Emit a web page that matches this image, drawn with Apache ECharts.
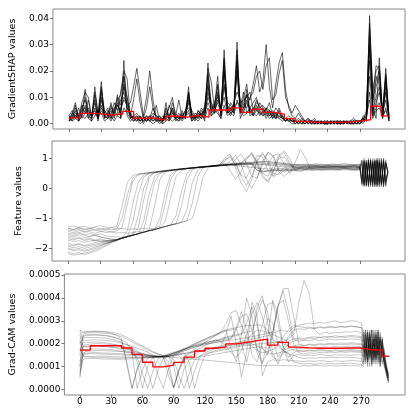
<!DOCTYPE html>
<html>
<head>
<meta charset="utf-8">
<script src="https://cdn.jsdelivr.net/npm/echarts@6/dist/echarts.min.js"></script>
<style>
html, body { margin: 0; padding: 0; background: #fff; }
#chart { width: 415px; height: 415px; }
</style>
</head>
<body>
<div id="chart"></div>
<script>
// sample positions (time steps)
const shapX = Array.from({length: 100}, (_, i) => i * 3)
const featX = Array.from({length: 55}, (_, i) => i * 5).concat(Array.from({length: 13}, (_, i) => 272 + i * 2))
const camX = [0, 3].concat(Array.from({length: 54}, (_, i) => 5 + i * 5)).concat(Array.from({length: 13}, (_, i) => 272 + i * 2))
const xTicks = [0, 30, 60, 90, 120, 150, 180, 210, 240, 270]

// GradientSHAP values, in 0.001
const shap1 = [2,4,8,1,3,13,2,1,14,3, 16,2,3,1,4,11,2,24,3,1, 2,1,3,0,2,1,3,1,2,0, 8,1,3,2,1,4,2,14,1,3, 2,4,1,23,3,5,4,2,28,5,
  3,6,31,2,5,13,3,4,6,3, 5,2,4,3,2,6,3,1,2,1, 1,0,1,0,1,0,1,0,1,0, 0,1,0,1,0,1,0,1,1,0, 1,2,1,41,6,2,25,3,21,1]
const shap2 = [1,3,7,2,8,12,10,2,12,4, 14,3,2,8,3,4,12,20,17,2, 3,2,1,2,1,3,2,7,1,2, 3,6,10,2,3,1,3,12,4,2, 3,2,6,21,16,6,18,3,25,6,
  4,5,28,6,12,4,6,3,5,4, 3,6,5,2,4,3,2,1,2,1, 0,1,0,1,2,0,1,0,1,0, 1,0,1,0,1,0,1,0,1,1, 0,1,5,38,13,20,22,4,19,2]
const shap3 = [3,2,5,1,6,9,4,3,11,2, 12,3,4,7,2,9,11,18,5,3, 2,3,1,2,3,1,2,1,3,1, 2,1,4,3,2,5,2,10,3,1, 4,3,5,18,4,7,14,5,22,4,
  6,4,24,5,10,15,4,6,5,8, 6,4,5,4,2,3,2,1,2,1, 1,0,1,1,0,1,0,1,0,1, 0,1,0,1,1,0,1,0,1,0, 1,2,1,33,4,14,18,2,16,3]
const shap4 = [2,1,4,3,5,6,3,2,6,4, 7,2,5,3,8,5,9,12,6,4, 1,2,3,1,2,3,1,2,0,1, 3,2,6,1,2,3,4,8,2,3, 2,5,3,12,6,5,8,4,15,7,
  5,7,18,4,6,8,5,3,7,4, 4,5,3,5,3,2,3,1,2,1, 1,1,0,1,0,1,0,0,1,0, 0,1,0,0,1,0,1,0,0,1, 1,0,2,24,3,8,12,4,9,2]
const shap5 = [1,2,3,2,4,5,6,3,4,2, 5,3,4,2,5,3,6,9,7,8, 14,21,12,3,10,20,9,2,1,2, 2,3,4,2,3,2,3,5,2,3, 3,2,4,8,5,4,9,6,10,4,
  5,6,8,7,6,11,9,15,22,12, 16,30,14,6,15,23,27,13,6,3, 2,4,2,1,2,1,1,0,1,0, 1,0,1,0,0,1,0,1,0,0, 1,1,2,12,3,6,8,2,6,1]
const shap6 = [2,3,2,4,3,7,2,4,5,3, 6,4,3,5,4,7,5,10,8,3, 9,17,8,2,6,14,6,3,2,1, 4,3,6,3,2,3,5,6,4,2, 5,3,4,10,7,5,12,4,14,6,
  4,8,12,9,7,6,10,12,18,20, 13,22,25,9,11,19,24,10,7,4, 7,5,3,1,1,0,1,0,0,1, 0,1,0,1,0,1,1,0,1,0, 0,2,1,18,5,10,14,3,12,2]
const shap7 = [3,1,2,1,3,2,4,1,3,5, 4,1,2,3,1,3,2,6,4,2, 1,2,0,1,2,1,0,1,1,0, 1,2,1,2,1,2,3,4,1,2, 1,3,2,6,3,4,5,2,7,3,
  4,3,9,5,3,4,6,4,3,5, 3,4,2,3,4,2,1,2,1,0, 0,1,0,0,1,0,0,1,0,0, 0,0,1,0,0,0,1,0,0,1, 1,1,3,9,2,5,6,3,5,2]
const shap8 = [1,4,3,2,7,4,5,3,8,2, 10,3,2,6,5,10,7,14,10,3, 2,1,2,3,1,2,6,2,3,1, 5,2,8,4,2,3,2,9,5,3, 3,6,4,14,8,6,15,3,19,8,
  7,5,20,8,9,10,12,5,9,6, 7,5,8,3,6,4,3,2,3,2, 1,2,1,0,1,1,2,0,1,0, 1,0,1,1,0,1,0,1,2,1, 1,2,4,28,9,16,20,3,14,1]
const shap9 = [3,5,2,6,2,4,9,3,5,2, 9,4,6,2,5,8,3,18,10,2, 3,4,2,1,3,2,1,2,1,3, 2,7,4,3,9,2,5,11,3,2, 5,3,7,15,5,8,10,6,20,4,
  8,6,22,7,4,9,6,8,10,5, 6,3,5,2,3,4,2,2,1,2, 0,1,1,0,1,1,0,1,0,1, 1,0,0,1,0,1,0,0,1,1, 0,3,2,30,8,18,15,5,17,3]
const shap10 = [1,2,6,3,4,10,5,3,9,1, 13,5,3,4,6,7,4,15,6,4, 2,3,1,2,1,2,4,3,2,1, 6,3,5,2,4,2,3,12,2,4, 3,4,5,19,8,4,11,5,24,6,
  6,4,26,4,8,11,4,5,8,7, 4,6,3,4,2,5,2,2,1,1, 1,0,2,1,0,1,0,1,1,0, 0,1,1,0,1,0,1,1,0,1, 1,1,3,36,10,22,21,3,18,2]
// mean over 10-step windows, in 0.001
const shapMean = [2.2,3.9,3.7,3.3,3.7,4.7,2.1,2.1,1.4,2.9, 2.5,3.2,2.5,5.2,5.2,6.0,4.3,5.5,4.3,3.6,
  1.9,0.9,0.5,0.5,0.5,0.6,1.0,1.5,6.7,3.0]

// feature values
const feat1 = [-1.32,-1.38,-1.30,-1.36,-1.33,-1.40,-1.34,-1.37,-1.31,-1.36, -1.00,-0.20,0.35,0.47,0.50,0.52,0.55,0.57,0.60,0.62,
  0.64,0.66,0.68,0.70,0.71,0.73,0.74,0.76,0.78,0.80, 0.82,0.80,0.83,0.81,0.84,0.82,0.80,0.78,0.76,0.74,
  0.72,0.70,0.70,0.68,0.69,0.70,0.71,0.70,0.72,0.71, 0.70,0.72,0.71,0.73,0.70,
  0.20,0.90,0.10,0.95,0.15,1.00,0.10,0.90,0.05,0.95,0.20,0.85,0.60]
const feat2 = [-1.52,-1.58,-1.50,-1.56,-1.60,-1.55,-1.62,-1.66,-1.68,-1.70, -1.66,-1.40,-0.50,0.20,0.45,0.50,0.53,0.56,0.58,0.61,
  0.63,0.65,0.67,0.69,0.71,0.72,0.74,0.75,0.80,0.95, 1.05,0.80,0.45,0.35,0.70,1.10,1.05,0.60,0.40,0.70,
  0.85,0.75,0.72,0.70,0.68,0.70,0.72,0.69,0.71,0.70, 0.72,0.70,0.68,0.71,0.69,
  0.85,0.10,0.90,0.20,1.00,0.05,0.90,0.15,0.95,0.10,0.80,0.30,0.50]
const feat3 = [-1.72,-1.78,-1.74,-1.80,-1.76,-1.73,-1.77,-1.75,-1.74,-1.72, -1.65,-1.60,-1.52,-0.90,0.00,0.42,0.52,0.56,0.58,0.60,
  0.62,0.64,0.66,0.68,0.70,0.72,0.73,0.75,0.77,0.78, 0.80,0.79,0.81,0.83,0.80,0.62,0.58,0.60,0.62,0.64,
  0.63,0.62,0.65,0.66,0.68,0.67,0.69,0.70,0.68,0.70, 0.69,0.71,0.70,0.68,0.70,
  0.30,0.95,0.20,0.85,0.10,0.90,0.25,1.00,0.15,0.85,0.05,0.90,0.55]
const feat4 = [-1.92,-1.98,-1.94,-2.00,-1.96,-1.90,-1.86,-1.82,-1.78,-1.72, -1.66,-1.61,-1.56,-1.51,-1.40,-0.60,0.20,0.50,0.57,0.60,
  0.62,0.65,0.66,0.69,0.70,0.72,0.74,0.76,0.78,0.85, 0.60,0.30,0.55,0.95,1.15,0.80,0.35,0.25,0.60,1.00,
  1.05,0.80,0.70,0.72,0.74,0.73,0.75,0.72,0.74,0.73, 0.72,0.74,0.73,0.75,0.72,
  0.90,0.20,0.85,0.05,0.95,0.15,0.90,0.10,1.00,0.20,0.90,0.10,0.60]
const feat5 = [-1.42,-1.48,-1.40,-1.46,-1.44,-1.50,-1.43,-1.47,-1.45,-1.49, -1.46,-1.50,-1.47,-1.44,-1.46,-1.42,-1.38,-1.00,-0.10,0.45,
  0.60,0.64,0.66,0.68,0.70,0.71,0.73,0.74,0.76,0.77, 0.78,0.80,0.78,0.82,0.84,0.86,0.88,0.90,0.88,0.86,
  0.84,0.82,0.80,0.79,0.81,0.80,0.82,0.80,0.79,0.81, 0.80,0.82,0.80,0.79,0.81,
  0.15,0.85,0.30,1.00,0.10,0.90,0.05,0.95,0.20,0.85,0.15,0.95,0.50]
const feat6 = [-1.62,-1.68,-1.64,-1.70,-1.66,-1.72,-1.68,-1.74,-1.72,-1.70, -1.65,-1.60,-1.56,-1.51,-1.46,-1.41,-1.37,-1.32,-1.10,-0.30,
  0.40,0.60,0.66,0.68,0.70,0.72,0.73,0.75,0.76,0.78, 0.90,1.10,0.80,0.30,0.00,0.35,0.90,1.20,1.05,0.55,
  0.40,0.55,0.62,0.64,0.63,0.65,0.66,0.64,0.66,0.65, 0.64,0.66,0.65,0.63,0.65,
  0.80,0.10,0.95,0.25,0.90,0.05,1.00,0.20,0.85,0.10,0.90,0.20,0.55]
const feat7 = [-2.12,-2.18,-2.14,-2.20,-2.16,-2.10,-2.02,-1.92,-1.82,-1.72, -1.66,-1.60,-1.56,-1.51,-1.46,-1.41,-1.37,-1.32,-1.27,-1.22,
  -0.90,-0.10,0.50,0.66,0.69,0.71,0.73,0.74,0.76,0.77, 0.78,0.76,0.74,0.72,0.70,0.68,0.66,0.65,0.64,0.66,
  0.67,0.65,0.66,0.68,0.67,0.66,0.68,0.67,0.69,0.68, 0.67,0.69,0.68,0.66,0.68,
  0.25,0.90,0.10,0.85,0.20,0.95,0.15,0.90,0.05,1.00,0.20,0.80,0.60]
const feat8 = [-1.82,-1.88,-1.84,-1.90,-1.86,-1.80,-1.78,-1.76,-1.75,-1.72, -1.66,-1.61,-1.56,-1.51,-1.46,-1.41,-1.37,-1.32,-1.27,-1.22,
  -1.18,-1.13,-0.70,0.20,0.62,0.72,0.74,0.75,0.77,1.00, 1.15,0.70,0.20,-0.10,0.30,0.95,1.20,0.85,0.40,0.50,
  0.70,0.74,0.73,0.75,0.74,0.76,0.75,0.73,0.75,0.74, 0.73,0.75,0.74,0.76,0.73,
  0.95,0.15,0.85,0.10,0.90,0.20,0.95,0.05,0.90,0.15,1.00,0.25,0.50]
const feat9 = [-1.28,-1.25,-1.30,-1.26,-1.32,-1.28,-1.24,-1.29,-1.30,-1.27, -0.60,0.20,0.44,0.48,0.50,0.53,0.55,0.57,0.59,0.61,
  0.63,0.65,0.67,0.68,0.70,0.72,0.73,0.74,0.76,0.78, 0.79,0.81,0.83,1.00,1.15,0.85,0.50,0.40,0.75,1.10,
  1.25,1.00,0.60,0.55,0.65,0.72,0.70,0.72,0.71,0.73, 0.72,0.71,0.73,0.70,0.72,
  0.10,0.90,0.20,0.95,0.10,0.85,0.20,0.90,0.15,0.95,0.05,0.85,0.55]
const feat10 = [-1.58,-1.62,-1.55,-1.64,-1.60,-1.57,-1.62,-1.66,-1.70,-1.71, -1.66,-1.61,-1.56,-1.51,-1.46,-1.38,-0.60,0.30,0.56,0.60,
  0.63,0.65,0.67,0.69,0.70,0.72,0.73,0.75,0.76,0.78, 0.79,0.78,0.80,0.82,0.81,0.60,0.55,0.57,0.59,0.60,
  0.61,0.60,0.62,0.61,0.63,0.62,0.64,0.63,0.62,0.64, 0.63,0.65,0.64,0.62,0.64,
  0.70,0.05,0.90,0.15,0.95,0.10,0.85,0.25,0.90,0.10,0.95,0.15,0.60]
const feat11 = [-1.98,-2.04,-2.00,-2.06,-2.02,-1.96,-1.90,-1.84,-1.78,-1.73, -1.66,-1.61,-1.56,-1.51,-1.46,-1.41,-1.37,-1.32,-1.27,-1.22,
  -1.18,-1.13,-1.08,-1.00,-0.40,0.40,0.70,0.76,0.78,0.80, 0.82,0.84,0.86,0.88,0.87,0.89,0.90,0.88,0.86,0.84,
  0.82,0.80,0.79,0.80,0.78,0.79,0.80,0.78,0.79,0.80, 0.79,0.81,0.80,0.78,0.80,
  0.20,1.00,0.10,0.90,0.25,0.85,0.05,0.95,0.20,0.90,0.15,0.85,0.50]
const feat12 = [-1.48,-1.52,-1.46,-1.54,-1.50,-1.55,-1.52,-1.58,-1.60,-1.62, -1.63,-1.60,-1.56,-1.30,-0.40,0.35,0.52,0.55,0.58,0.60,
  0.62,0.64,0.66,0.67,0.69,0.70,0.72,0.73,0.75,0.77, 0.78,0.80,0.82,0.84,0.85,0.70,0.60,0.80,1.10,1.15,
  0.80,0.50,0.85,1.30,1.00,0.60,0.62,0.64,0.63,0.65, 0.64,0.66,0.65,0.64,0.66,
  0.55,0.10,0.90,0.05,0.95,0.20,0.90,0.10,0.85,0.15,1.00,0.10,0.60]
const feat13 = [-1.38,-1.42,-1.36,-1.44,-1.40,-1.38,-1.43,-1.41,-1.45,-1.42, -1.30,-0.50,0.25,0.45,0.49,0.52,0.54,0.57,0.59,0.61,
  0.63,0.65,0.66,0.68,0.70,0.71,0.73,0.75,0.76,0.78, 0.80,0.95,1.15,0.85,0.40,0.35,0.80,1.20,1.10,0.60,
  0.55,0.62,0.65,0.66,0.64,0.66,0.67,0.65,0.67,0.66, 0.65,0.67,0.66,0.64,0.66,
  0.95,0.20,0.85,0.10,0.90,0.25,0.95,0.10,0.85,0.20,0.90,0.05,0.55]
const feat14 = [-1.68,-1.72,-1.66,-1.74,-1.70,-1.75,-1.72,-1.76,-1.74,-1.71, -1.66,-1.60,-1.10,-0.20,0.38,0.50,0.53,0.56,0.58,0.60,
  0.62,0.64,0.66,0.68,0.69,0.71,0.72,0.74,0.75,0.77, 0.78,0.77,0.79,0.78,0.80,0.79,0.81,0.80,0.82,0.81,
  0.80,0.78,0.77,0.76,0.78,0.77,0.76,0.78,0.77,0.76, 0.77,0.75,0.76,0.78,0.76,
  0.10,0.85,0.20,0.95,0.05,0.90,0.15,1.00,0.20,0.85,0.10,0.90,0.50]
const feat15 = [-2.02,-2.08,-2.04,-2.10,-2.06,-2.00,-1.92,-1.84,-1.78,-1.73, -1.66,-1.61,-1.56,-1.51,-1.10,-0.20,0.40,0.52,0.56,0.59,
  0.62,0.64,0.66,0.68,0.70,0.72,0.73,0.75,0.76,0.78, 0.80,0.82,0.84,0.86,0.85,0.87,0.85,0.83,0.81,0.79,
  0.77,0.75,0.76,0.74,0.75,0.76,0.74,0.75,0.77,0.75, 0.76,0.74,0.75,0.77,0.75,
  0.80,0.15,0.95,0.10,0.85,0.20,0.90,0.05,1.00,0.15,0.85,0.25,0.55]
const feat16 = [-1.33,-1.37,-1.32,-1.38,-1.35,-1.31,-1.36,-1.34,-1.38,-1.35, -1.33,-1.37,-1.34,-1.36,-1.33,-1.35,-1.34,-1.25,-0.50,0.30,
  0.58,0.64,0.66,0.68,0.70,0.71,0.73,0.74,0.76,0.90, 1.10,0.90,0.40,0.10,0.40,0.90,1.15,0.95,0.50,0.45,
  0.60,0.68,0.70,0.69,0.71,0.70,0.72,0.71,0.70,0.72, 0.71,0.70,0.72,0.71,0.69,
  0.30,0.95,0.10,0.90,0.20,0.85,0.10,0.95,0.25,0.90,0.05,0.80,0.60]
const feat17 = [-1.88,-1.92,-1.86,-1.94,-1.90,-1.86,-1.82,-1.79,-1.76,-1.73, -1.66,-1.61,-1.56,-1.51,-1.46,-1.41,-1.37,-1.32,-1.27,-1.22,
  -1.18,-0.60,0.30,0.62,0.70,0.72,0.73,0.75,0.76,0.78, 0.79,0.80,0.82,0.81,0.83,0.60,0.55,0.58,0.60,0.59,
  0.61,0.60,0.59,0.61,0.60,0.62,0.61,0.60,0.62,0.61, 0.60,0.62,0.61,0.59,0.61,
  0.90,0.10,0.85,0.20,0.95,0.10,0.90,0.15,0.85,0.05,0.95,0.20,0.55]
const feat18 = [-2.18,-2.22,-2.20,-2.16,-2.12,-2.05,-1.97,-1.88,-1.80,-1.73, -1.66,-1.61,-1.56,-1.51,-1.46,-1.41,-1.37,-1.32,-1.27,-1.22,
  -1.18,-1.13,-1.08,-0.50,0.40,0.70,0.74,0.75,0.77,0.78, 0.80,0.82,0.84,1.00,1.20,0.90,0.45,0.20,0.55,1.05,
  1.20,0.85,0.60,0.70,0.74,0.73,0.75,0.74,0.73,0.75, 0.74,0.73,0.75,0.74,0.72,
  0.15,0.90,0.05,0.95,0.20,0.85,0.15,0.90,0.10,1.00,0.20,0.85,0.55]

// Grad-CAM values, in 0.0001
const cam1 = [2.6,2.5, 2.52,2.54,2.55,2.54,2.52,2.50,2.45,2.38,2.28,2.15, 2.02,1.90,1.78,1.66,1.56,1.48,1.45,1.52,1.62,1.74,
  1.86,1.98,2.10,2.20,2.30,2.38,2.50,2.85,3.35,3.45, 2.80,2.20,2.40,2.60,2.55,2.50,2.45,2.55,2.60,2.50,
  2.70,2.80,2.85,2.90,2.88,2.92,2.90,2.95,3.00,2.92, 2.95,3.00,2.98,2.90,
  2.2,2.6,1.8,2.4,1.6,2.2,1.5,2.3,1.9,2.1,1.2,0.9,0.6]
const cam2 = [2.2,2.35, 2.38,2.40,2.40,2.38,2.36,2.32,2.25,2.15,1.20,0.05, 0.90,1.40,1.42,1.40,1.42,1.45,1.50,1.58,1.66,1.75,
  1.84,1.92,2.00,2.05,2.10,2.15,2.10,1.90,1.60,1.40, 1.70,2.40,3.30,3.80,3.20,2.20,1.40,1.30,1.60,1.70,
  1.75,1.80,1.78,1.82,1.85,1.83,1.86,1.84,1.88,1.85, 1.87,1.90,1.88,1.86,
  1.4,2.3,1.2,2.5,1.3,2.4,1.6,2.5,1.2,2.2,1.0,0.8,0.5]
const cam3 = [1.2,1.9, 1.95,1.98,2.00,2.00,1.98,1.96,1.94,1.90,1.85,1.78, 1.70,1.45,0.80,0.05,0.85,1.35,1.48,1.55,1.62,1.70,
  1.78,1.85,1.90,1.95,2.00,2.05,2.10,2.15,2.20,2.60, 3.20,3.30,2.60,1.80,1.20,1.60,2.50,3.70,3.90,3.00,
  2.00,1.60,1.55,1.60,1.58,1.62,1.60,1.63,1.61,1.64, 1.62,1.65,1.63,1.60,
  2.0,1.3,2.4,1.4,2.6,1.2,2.3,1.5,2.4,1.1,1.6,0.7,0.4]
const cam4 = [0.5,1.5, 1.65,1.68,1.70,1.70,1.69,1.68,1.67,1.66,1.64,1.61, 1.58,1.55,1.52,1.49,1.46,1.43,0.90,0.05,0.80,1.30,
  1.45,1.55,1.65,1.72,1.80,1.85,1.90,1.95,2.00,2.05, 2.10,2.15,2.20,2.25,2.30,2.35,2.40,2.30,2.20,2.10,
  2.20,2.25,2.22,2.28,2.30,2.27,2.32,2.30,2.34,2.31, 2.33,2.36,2.34,2.30,
  1.6,2.5,1.5,2.2,1.3,2.6,1.4,2.1,1.7,2.3,1.3,1.0,0.5]
const cam5 = [1.8,1.5, 1.45,1.44,1.45,1.46,1.45,1.44,1.43,1.42,1.42,1.41, 1.41,1.40,1.40,1.40,1.41,1.42,1.43,1.30,0.60,0.05,
  0.70,1.30,1.45,1.55,1.62,1.70,1.75,1.80,1.85,1.90, 1.95,2.00,2.05,2.10,2.80,3.70,3.80,2.90,1.80,1.20,
  1.50,1.40,1.35,1.38,1.36,1.40,1.38,1.42,1.40,1.39, 1.41,1.40,1.38,1.36,
  1.1,1.9,1.0,2.0,1.2,1.8,1.1,2.1,1.3,1.9,1.0,0.7,0.3]
const cam6 = [2.0,2.25, 2.26,2.27,2.27,2.26,2.24,2.20,2.14,2.06,1.96,1.85, 1.20,0.05,1.00,1.40,1.42,1.44,1.50,1.58,1.66,1.75,
  1.82,1.90,1.95,2.00,2.02,2.05,2.08,2.12,2.15,2.18, 2.22,2.26,2.30,2.35,2.40,2.45,2.50,3.60,4.40,4.40,
  3.20,2.00,1.90,1.95,1.92,1.96,1.94,1.98,1.95,1.97, 1.96,1.99,1.97,1.94,
  2.4,1.5,2.6,1.3,2.2,1.6,2.5,1.2,2.3,1.4,1.5,0.9,0.7]
const cam7 = [2.4,1.9, 1.86,1.87,1.88,1.88,1.87,1.86,1.84,1.80,1.75,1.70, 1.64,1.58,1.52,1.48,1.45,1.44,1.46,1.50,1.55,1.60,
  1.20,0.05,0.90,1.50,1.60,1.65,1.70,1.75,1.80,1.85, 1.90,1.92,1.95,1.98,2.00,2.02,2.05,2.08,2.10,2.20,
  2.40,3.80,4.75,4.20,2.60,2.40,2.50,2.45,2.50,2.48, 2.52,2.50,2.55,2.48,
  1.8,2.4,1.5,2.6,1.7,2.2,1.4,2.5,1.6,2.0,1.2,0.8,0.4]
const cam8 = [1.0,1.6, 1.58,1.60,1.61,1.60,1.59,1.58,1.57,1.56,1.54,1.52, 1.50,1.48,1.46,1.45,1.44,1.44,1.46,1.50,1.54,1.58,
  1.62,1.66,1.70,1.74,1.78,1.82,1.86,2.40,3.20,2.00, 0.55,1.60,3.80,3.20,0.60,1.20,1.30,1.25,1.30,1.28,
  1.26,1.24,1.22,1.25,1.23,1.26,1.24,1.22,1.25,1.23, 1.24,1.26,1.25,1.22,
  1.9,1.1,2.2,1.0,2.0,1.3,2.4,1.1,2.1,1.2,1.3,0.6,0.3]
const cam9 = [2.6,2.15, 2.14,2.16,2.17,2.16,2.14,2.12,2.08,2.02,1.95,1.88, 1.80,1.72,1.64,1.50,0.60,0.05,0.90,1.50,1.60,1.68,
  1.76,1.84,1.92,2.00,2.08,2.15,2.22,2.28,2.34,2.40, 2.45,2.50,2.55,3.30,3.90,3.40,2.20,1.40,1.80,2.30,
  2.60,2.65,2.62,2.68,2.66,2.70,2.68,2.72,2.70,2.74, 2.72,2.76,2.73,2.70,
  2.3,1.4,2.5,1.6,2.6,1.3,2.2,1.5,2.5,1.4,1.7,1.0,0.6]
const cam10 = [0.7,1.3, 1.34,1.35,1.35,1.34,1.33,1.33,1.32,1.32,1.33,1.34, 1.35,1.36,1.37,1.38,1.40,1.41,1.42,1.40,1.38,1.36,
  1.34,1.32,1.30,1.28,1.26,1.24,1.22,1.20,1.18,1.15, 1.12,1.10,1.08,1.06,1.04,1.05,1.06,1.04,1.05,1.03,
  1.04,1.02,1.05,1.03,1.06,1.04,1.02,1.05,1.03,1.04, 1.05,1.03,1.04,1.02,
  1.3,2.0,1.1,1.8,1.4,2.2,1.2,1.9,1.0,1.7,1.1,0.8,0.4]
const cam11 = [1.5,2.4, 2.45,2.47,2.48,2.47,2.45,2.42,2.38,2.30,2.20,2.08, 1.96,1.84,1.72,1.62,1.54,1.48,1.20,0.10,0.85,1.40,
  1.55,1.68,1.80,1.92,2.02,2.10,2.18,2.25,2.30,2.35, 2.40,2.90,3.60,2.80,1.80,1.50,2.40,3.60,4.30,3.40,
  2.20,2.10,2.15,2.12,2.18,2.14,2.16,2.20,2.17,2.19, 2.18,2.21,2.19,2.16,
  2.1,2.6,1.7,2.3,1.5,2.5,1.8,2.6,1.4,2.2,1.4,1.0,0.5]
const cam12 = [2.2,1.75, 1.74,1.76,1.77,1.76,1.75,1.73,1.70,1.66,1.62,1.58, 1.40,0.70,0.05,0.80,1.35,1.40,1.44,1.48,1.52,1.56,
  1.60,1.64,1.68,1.72,1.76,1.80,1.84,1.88,1.92,1.95, 1.98,2.00,1.90,1.70,1.60,1.65,1.75,1.90,1.70,1.55,
  1.50,1.52,1.48,1.51,1.49,1.53,1.50,1.48,1.52,1.50, 1.51,1.49,1.52,1.50,
  1.5,2.2,1.3,2.4,1.1,2.0,1.4,2.3,1.2,2.1,1.5,0.9,0.5]
const cam13 = [1.0,2.3, 2.34,2.36,2.37,2.36,2.34,2.30,2.24,2.16,2.05,1.60, 0.05,0.85,1.38,1.42,1.44,1.46,1.52,1.60,1.68,1.76,
  1.84,1.90,1.96,2.02,2.08,2.12,2.16,2.20,2.24,2.70, 3.40,2.60,1.50,1.20,2.00,3.10,2.90,2.00,1.70,1.80,
  1.90,1.95,1.92,1.98,1.96,2.00,1.98,2.02,2.00,2.03, 2.01,2.04,2.02,1.99,
  1.7,2.4,1.4,2.5,1.5,2.3,1.3,2.6,1.5,2.2,1.3,0.9,0.5]
const cam14 = [0.8,1.5, 1.55,1.56,1.56,1.55,1.54,1.53,1.52,1.51,1.50,1.49, 1.48,1.47,1.46,1.45,1.44,1.43,1.44,1.46,1.48,1.20,
  0.05,0.80,1.45,1.60,1.70,1.80,1.85,1.90,1.95,2.00, 2.05,2.10,2.00,1.90,1.85,1.80,1.95,2.10,2.00,1.90,
  1.70,1.68,1.66,1.69,1.67,1.70,1.68,1.66,1.69,1.67, 1.68,1.70,1.67,1.65,
  1.2,2.1,1.3,2.3,1.0,2.0,1.5,2.2,1.1,1.9,1.2,0.8,0.4]
const cam15 = [1.7,2.05, 2.04,2.06,2.07,2.06,2.04,2.00,1.94,1.86,1.78,1.70, 1.62,1.55,1.50,1.46,1.44,1.45,1.50,1.58,1.66,1.75,
  1.85,1.95,2.05,2.15,2.25,2.35,2.45,2.55,2.60,2.65, 2.00,1.20,2.20,3.60,4.10,3.00,1.60,1.10,1.70,2.00,
  2.10,2.20,2.15,2.25,2.22,2.28,2.24,2.30,2.26,2.29, 2.27,2.31,2.28,2.25,
  2.5,1.6,2.3,1.5,2.6,1.4,2.4,1.7,2.2,1.5,1.4,1.0,0.6]
const cam16 = [2.1,1.45, 1.42,1.41,1.40,1.40,1.39,1.38,1.37,1.37,1.38,1.39, 1.40,1.41,1.42,1.43,1.44,1.44,1.45,1.00,0.05,0.90,
  1.30,1.38,1.42,1.46,1.50,1.54,1.58,1.62,1.66,1.70, 1.74,1.78,1.82,1.86,1.80,1.60,1.55,1.60,1.65,1.60,
  1.20,1.15,1.12,1.14,1.10,1.13,1.11,1.15,1.12,1.14, 1.13,1.15,1.12,1.10,
  1.0,1.8,1.2,2.0,1.1,1.7,1.3,1.9,1.0,1.8,1.1,0.7,0.3]
const cam17 = [2.4,2.5, 2.50,2.52,2.53,2.52,2.50,2.46,2.38,2.20,1.10,0.05, 0.90,1.45,1.46,1.44,1.45,1.48,1.55,1.62,1.70,1.80,
  1.90,2.00,2.10,2.20,2.30,2.40,2.50,2.60,2.65,2.70, 2.75,2.80,2.78,2.82,2.80,2.60,2.20,2.00,2.30,2.60,
  2.80,2.75,2.70,2.72,2.68,2.74,2.70,2.76,2.72,2.75, 2.73,2.77,2.74,2.70,
  2.6,1.8,2.5,1.7,2.4,1.9,2.6,1.6,2.3,1.7,1.8,1.1,0.7]
const cam18 = [0.6,1.85, 1.88,1.90,1.91,1.90,1.88,1.85,1.80,1.74,1.68,1.62, 1.57,1.52,1.48,1.45,1.43,1.42,0.60,0.10,0.90,1.45,
  1.60,1.75,1.90,2.05,2.20,2.35,2.50,2.60,1.80,1.20, 2.40,4.00,3.20,1.60,1.10,2.20,3.90,3.30,1.90,1.40,
  1.60,1.70,1.68,1.72,1.70,1.74,1.72,1.70,1.73,1.71, 1.72,1.74,1.71,1.69,
  2.2,1.2,2.5,1.4,2.1,1.1,2.4,1.3,2.2,1.5,1.2,0.8,0.4]
// mean over 10-step windows, in 0.0001
const camMean = [1.72,1.91,1.91,1.91,1.81,1.53,1.19,0.99,1.06,1.18, 1.41,1.68,1.80,1.85,1.99,2.06,2.13,2.20,1.94,2.06,
  1.85,1.82,1.80,1.80,1.80,1.81,1.81,1.73,1.73,1.46]

const font = 'DejaVu Sans'
const myChart = echarts.init(document.getElementById('chart'))

function gray (xs, rows, scale, gi, alpha, width) {
  return rows.map(r => ({
    type: 'line',
    xAxisIndex: gi,
    yAxisIndex: gi,
    data: r.map((v, i) => [xs[i], v * scale]),
    symbol: 'none',
    silent: true,
    lineStyle: {color: `rgba(0,0,0,${alpha})`, width: width}
  }))
}

function meanLine (means, scale, gi) {
  let data = means.map((v, i) => [i * 10, v * scale])
  data.push([297, means[means.length - 1] * scale])
  return {
    type: 'line',
    xAxisIndex: gi,
    yAxisIndex: gi,
    data: data,
    step: 'end',
    symbol: 'none',
    silent: true,
    z: 5,
    lineStyle: {color: '#ff0000', width: 1.3}
  }
}

const grids = [
  {left: 52, top: 9, width: 353, height: 120},
  {left: 52, top: 141, width: 353, height: 120},
  {left: 52, top: 274, width: 353, height: 121}
].map(g => Object.assign(g, {show: true, borderColor: '#888', borderWidth: 1}))

const xAxes = [0, 1, 2].map(i => ({
  type: 'value',
  gridIndex: i,
  min: -14.85,
  max: 311.85,
  axisLine: {show: false, onZero: false},
  splitLine: {show: false},
  axisTick: {show: true, length: 3, customValues: xTicks, lineStyle: {color: '#555', width: 0.8}},
  axisLabel: {show: i === 2, customValues: xTicks, fontSize: 9, color: '#000', margin: 2, fontFamily: font}
}))

function yAxis (gi, min, max, ticks, fmt, name, gap) {
  return {
    type: 'value',
    gridIndex: gi,
    min: min,
    max: max,
    name: name,
    nameLocation: 'middle',
    nameGap: gap,
    nameTextStyle: {fontSize: 9.5, color: '#000', fontFamily: font},
    axisLine: {show: false, onZero: false},
    splitLine: {show: false},
    axisTick: {show: true, length: 3, customValues: ticks, lineStyle: {color: '#555', width: 0.8}},
    axisLabel: {customValues: ticks, formatter: fmt, fontSize: 9, color: '#000', margin: 4, fontFamily: font}
  }
}

const minus = v => (v < 0 ? '\u2212' + Math.abs(v) : String(v))

myChart.setOption({
  animation: false,
  grid: grids,
  xAxis: xAxes,
  yAxis: [
    yAxis(0, -0.002, 0.0435, [0, 0.01, 0.02, 0.03, 0.04], v => v.toFixed(2), 'GradientSHAP values', 22),
    yAxis(1, -2.42, 1.58, [-2, -1, 0, 1], minus, 'Feature values', 15),
    yAxis(2, -0.000024, 0.000504, [0, 0.0001, 0.0002, 0.0003, 0.0004, 0.0005], v => v.toFixed(4), 'Grad-CAM values', 32)
  ],
  series: [].concat(
    gray(shapX, [shap1, shap2, shap3, shap4, shap5, shap6, shap7, shap8, shap9, shap10], 0.001, 0, 0.6, 1),
    [meanLine(shapMean, 0.001, 0)],
    gray(featX, [feat1, feat2, feat3, feat4, feat5, feat6, feat7, feat8, feat9, feat10, feat11, feat12,
      feat13, feat14, feat15, feat16, feat17, feat18], 1, 1, 0.28, 0.8),
    gray(camX, [cam1, cam2, cam3, cam4, cam5, cam6, cam7, cam8, cam9, cam10, cam11, cam12,
      cam13, cam14, cam15, cam16, cam17, cam18], 0.0001, 2, 0.28, 0.8),
    [meanLine(camMean, 0.0001, 2)]
  )
})
</script>
</body>
</html>
